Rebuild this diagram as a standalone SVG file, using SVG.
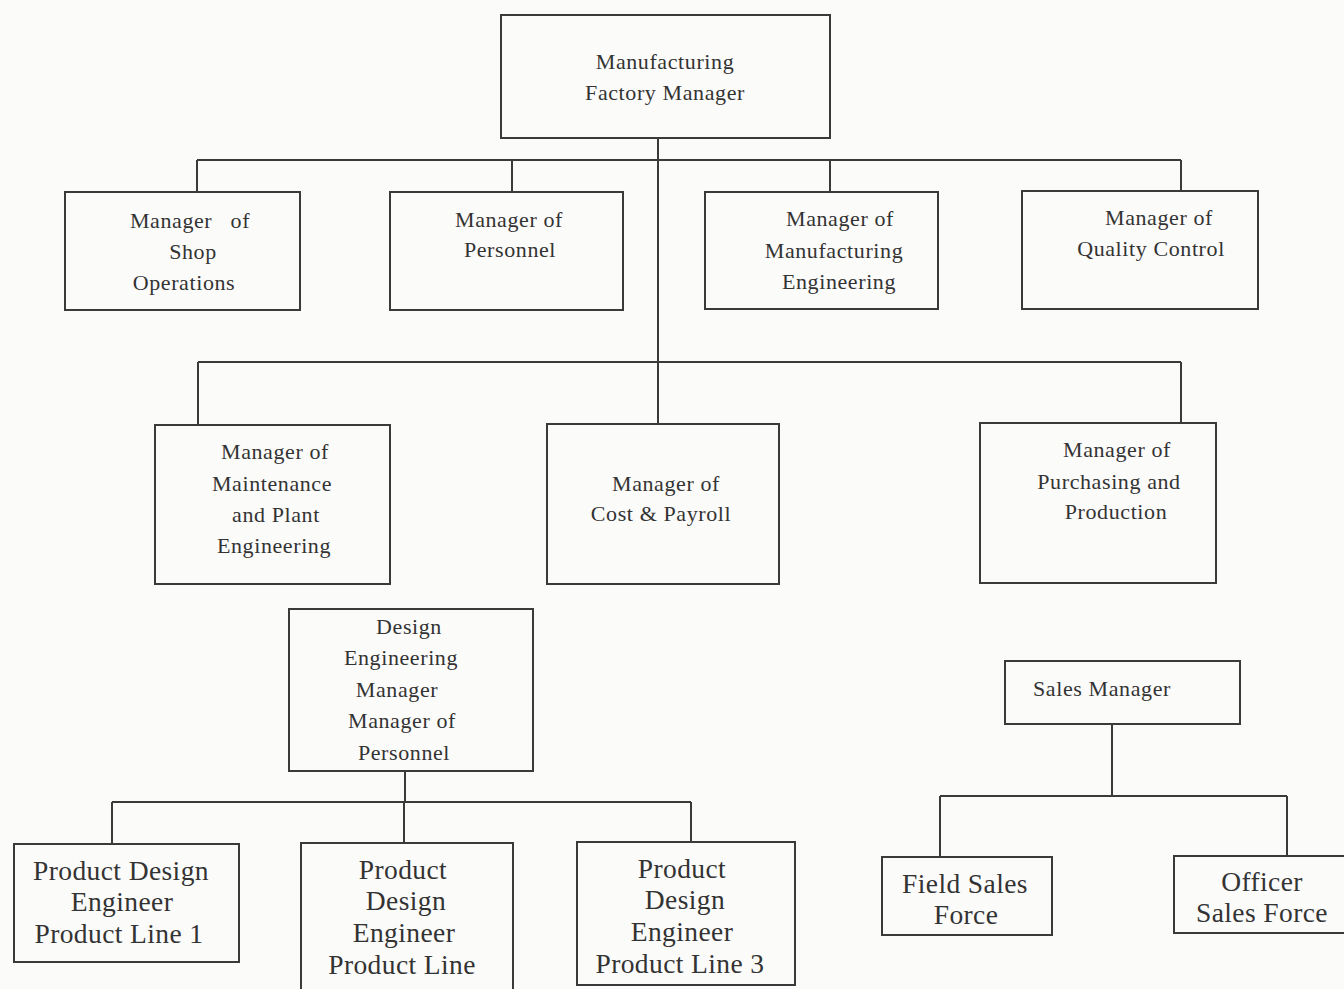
<svg xmlns="http://www.w3.org/2000/svg" width="1344" height="989" viewBox="0 0 1344 989">
<style>
.b{fill:none;stroke:#3a3a3a;stroke-width:2}
.c{fill:none;stroke:#3a3a3a;stroke-width:2}
text{font-family:"Liberation Serif","Times New Roman",serif;fill:#333;text-anchor:middle}
.s{font-size:22px;letter-spacing:0.6px}
.l{font-size:27.5px;letter-spacing:0.4px}
</style>
<rect width="1344" height="989" fill="#fbfbfa"/>
<g id="connectors">
<path class="c" d="M658 138V424M197 160H1181M197 160V192M512 160V192M830 160V192M1181 160V191M198 362H1181M198 362V425M1181 362V423"/>
<path class="c" d="M405 771V802M112 802H691M112 802V844M404 802V843M691 802V842"/>
<path class="c" d="M1112 724V796M940 796H1287M940 796V857M1287 796V856"/>
</g>
<g id="factory"><rect class="b" x="501" y="15" width="329" height="123"/><text class="s" x="665" y="69">Manufacturing</text><text class="s" x="665" y="100">Factory Manager</text></g>
<g id="shop"><rect class="b" x="65" y="192" width="235" height="118"/><text class="s" x="190" y="228" xml:space="preserve">Manager   of</text><text class="s" x="193" y="259">Shop</text><text class="s" x="184" y="290">Operations</text></g>
<g id="personnel"><rect class="b" x="390" y="192" width="233" height="118"/><text class="s" x="509" y="227">Manager of</text><text class="s" x="510" y="257">Personnel</text></g>
<g id="mfgeng"><rect class="b" x="705" y="192" width="233" height="117"/><text class="s" x="840" y="226">Manager of</text><text class="s" x="834" y="258">Manufacturing</text><text class="s" x="839" y="289">Engineering</text></g>
<g id="quality"><rect class="b" x="1022" y="191" width="236" height="118"/><text class="s" x="1159" y="225">Manager of</text><text class="s" x="1151" y="256">Quality Control</text></g>
<g id="maintenance"><rect class="b" x="155" y="425" width="235" height="159"/><text class="s" x="275" y="459">Manager of</text><text class="s" x="272" y="491">Maintenance</text><text class="s" x="276" y="522">and Plant</text><text class="s" x="274" y="553">Engineering</text></g>
<g id="cost"><rect class="b" x="547" y="424" width="232" height="160"/><text class="s" x="666" y="491">Manager of</text><text class="s" x="661" y="521">Cost &amp; Payroll</text></g>
<g id="purchasing"><rect class="b" x="980" y="423" width="236" height="160"/><text class="s" x="1117" y="457">Manager of</text><text class="s" x="1109" y="489">Purchasing and</text><text class="s" x="1116" y="519">Production</text></g>
<g id="design"><rect class="b" x="289" y="609" width="244" height="162"/><text class="s" x="409" y="634">Design</text><text class="s" x="401" y="665">Engineering</text><text class="s" x="397" y="697">Manager</text><text class="s" x="402" y="728">Manager of</text><text class="s" x="404" y="760">Personnel</text></g>
<g id="sales"><rect class="b" x="1005" y="661" width="235" height="63"/><text class="s" x="1102" y="696">Sales Manager</text></g>
<g id="pl1"><rect class="b" x="14" y="844" width="225" height="118"/><text class="l" x="121" y="880">Product Design</text><text class="l" x="122" y="911">Engineer</text><text class="l" x="119" y="943">Product Line 1</text></g>
<g id="pl2"><rect class="b" x="301" y="843" width="212" height="160"/><text class="l" x="403" y="879">Product</text><text class="l" x="406" y="910">Design</text><text class="l" x="404" y="942">Engineer</text><text class="l" x="402" y="974">Product Line</text></g>
<g id="pl3"><rect class="b" x="577" y="842" width="218" height="143"/><text class="l" x="682" y="878">Product</text><text class="l" x="685" y="909">Design</text><text class="l" x="682" y="941">Engineer</text><text class="l" x="680" y="973">Product Line 3</text></g>
<g id="field"><rect class="b" x="882" y="857" width="170" height="78"/><text class="l" x="965" y="893">Field Sales</text><text class="l" x="966" y="924">Force</text></g>
<g id="officer"><rect class="b" x="1174" y="856" width="180" height="77"/><text class="l" x="1262" y="891">Officer</text><text class="l" x="1262" y="922">Sales Force</text></g>
</svg>
